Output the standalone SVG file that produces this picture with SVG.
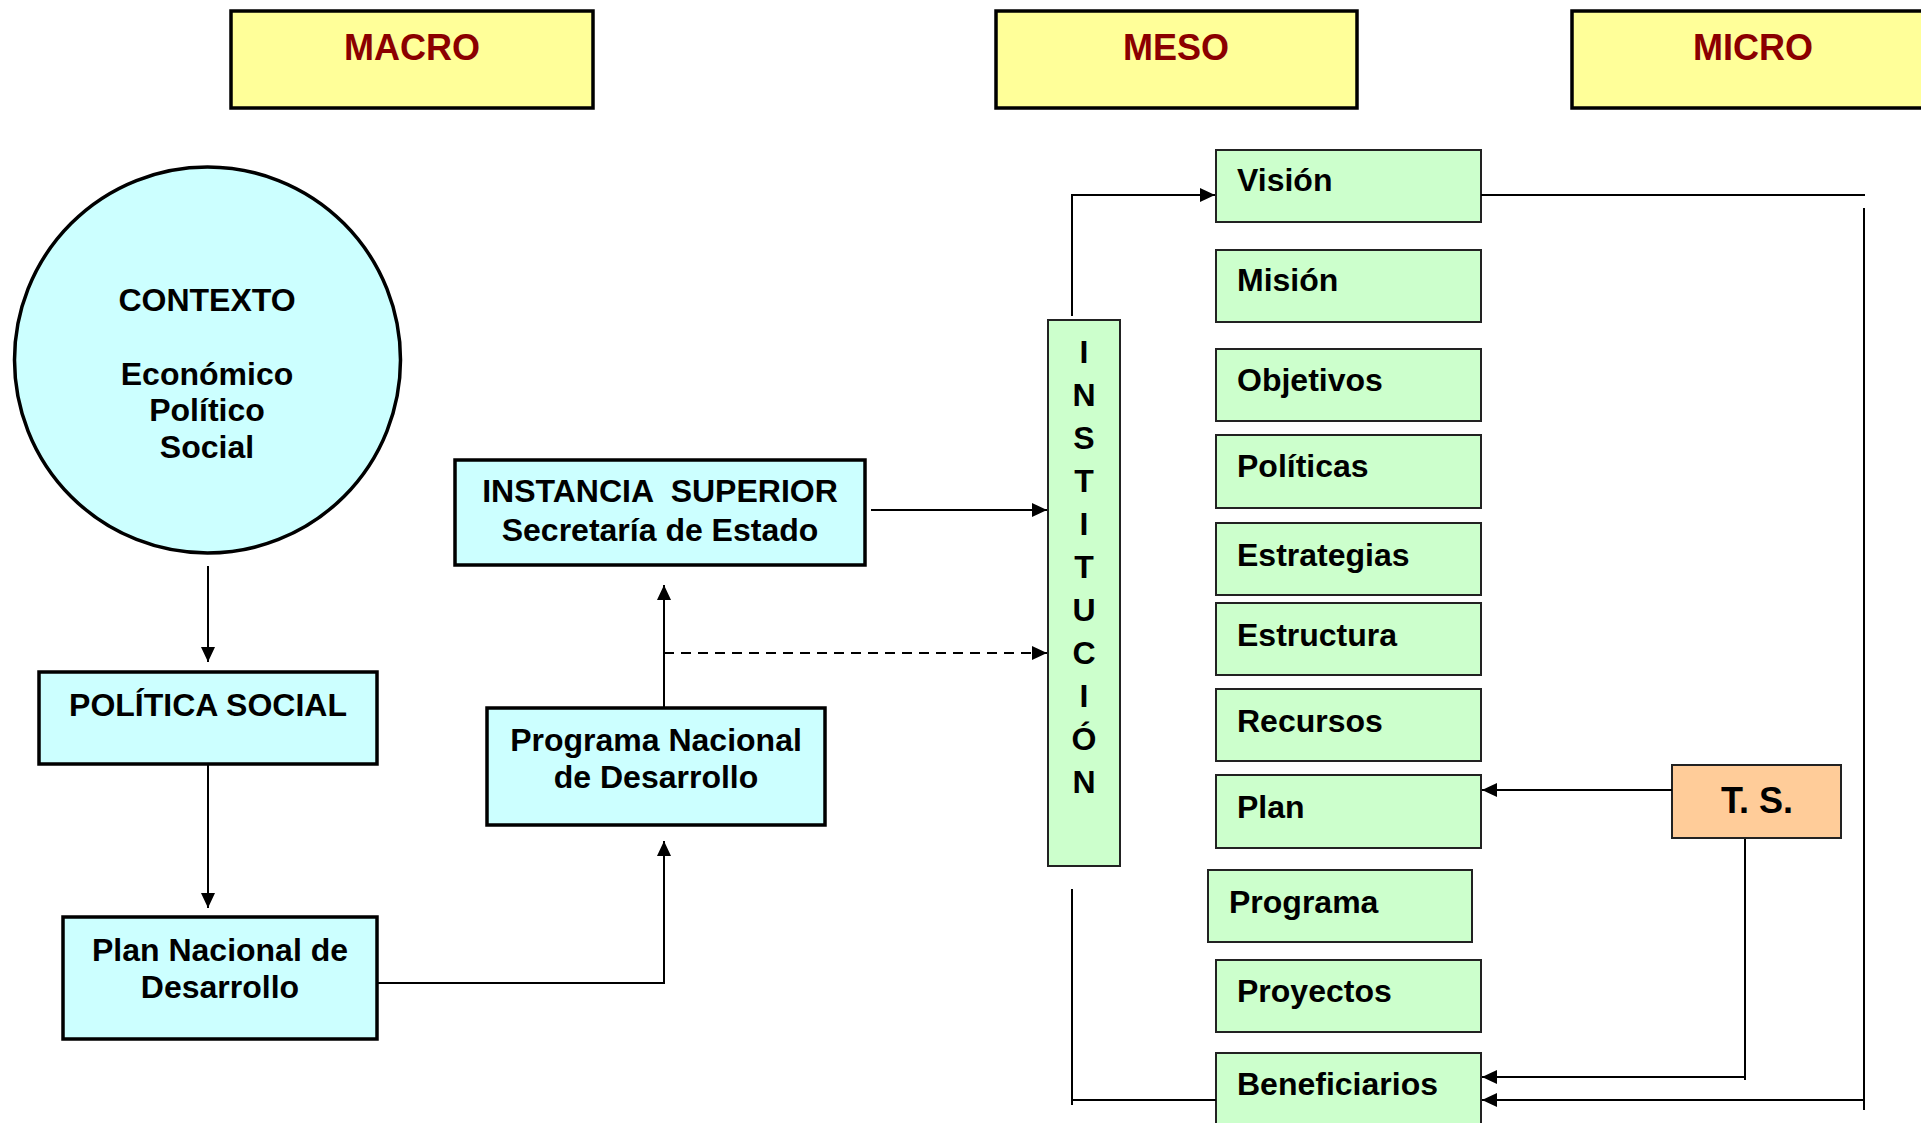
<svg xmlns="http://www.w3.org/2000/svg" width="1921" height="1123" viewBox="0 0 1921 1123">
<style>
text{font-family:"Liberation Sans",Arial,sans-serif;font-weight:bold;fill:#000}
.hdr rect{fill:#FFFF99;stroke:#000;stroke-width:3.5}
.hdr text{fill:#8B0000;font-size:36px;text-anchor:middle}
.cy{fill:#CCFFFF;stroke:#000;stroke-width:3.5}
.gr{fill:#CCFFCC;stroke:#222;stroke-width:2}
.t32{font-size:32px}
.mid{text-anchor:middle}
.cn{fill:none;stroke:#000;stroke-width:2}
</style>
<defs>
<marker id="ah" viewBox="0 0 15 14" refX="15" refY="7" markerWidth="15" markerHeight="14" orient="auto" markerUnits="userSpaceOnUse">
<path d="M0,0 L15,7 L0,14 Z" fill="#000"/>
</marker>
</defs>
<rect width="1921" height="1123" fill="#fff"/>

<g id="macro" class="hdr"><rect x="231" y="11" width="362" height="97"/><text x="412" y="60">MACRO</text></g>
<g id="meso" class="hdr"><rect x="996" y="11" width="361" height="97"/><text x="1176" y="60">MESO</text></g>
<g id="micro" class="hdr"><rect x="1572" y="11" width="362" height="97"/><text x="1753" y="60">MICRO</text></g>

<g id="contexto">
<ellipse cx="207.5" cy="360" rx="193" ry="193" class="cy"/>
<text class="t32 mid" x="207" y="311">CONTEXTO</text>
<text class="t32 mid" x="207" y="385">Económico</text>
<text class="t32 mid" x="207" y="421">Político</text>
<text class="t32 mid" x="207" y="458">Social</text>
</g>

<g id="politica-social">
<rect x="39" y="672" width="338" height="92" class="cy"/>
<text class="t32 mid" x="208" y="716">POLÍTICA SOCIAL</text>
</g>

<g id="plan-nacional">
<rect x="63" y="917" width="314" height="122" class="cy"/>
<text class="t32 mid" x="220" y="961">Plan Nacional de</text>
<text class="t32 mid" x="220" y="998">Desarrollo</text>
</g>

<g id="programa-nacional">
<rect x="487" y="708" width="338" height="117" class="cy"/>
<text class="t32 mid" x="656" y="751">Programa Nacional</text>
<text class="t32 mid" x="656" y="788">de Desarrollo</text>
</g>

<g id="instancia-superior">
<rect x="455" y="460" width="410" height="105" class="cy"/>
<text class="t32 mid" x="660" y="502" xml:space="preserve">INSTANCIA  SUPERIOR</text>
<text class="t32 mid" x="660" y="541">Secretaría de Estado</text>
</g>

<g id="institucion">
<rect x="1048" y="320" width="72" height="546" class="gr"/>
<text class="t32 mid" x="1084" y="363">I</text>
<text class="t32 mid" x="1084" y="406">N</text>
<text class="t32 mid" x="1084" y="449">S</text>
<text class="t32 mid" x="1084" y="492">T</text>
<text class="t32 mid" x="1084" y="535">I</text>
<text class="t32 mid" x="1084" y="578">T</text>
<text class="t32 mid" x="1084" y="621">U</text>
<text class="t32 mid" x="1084" y="664">C</text>
<text class="t32 mid" x="1084" y="707">I</text>
<text class="t32 mid" x="1084" y="750">Ó</text>
<text class="t32 mid" x="1084" y="793">N</text>
</g>

<g id="vision"><rect x="1216" y="150" width="265" height="72" class="gr"/><text class="t32" x="1237" y="191">Visión</text></g>
<g id="mision"><rect x="1216" y="250" width="265" height="72" class="gr"/><text class="t32" x="1237" y="291">Misión</text></g>
<g id="objetivos"><rect x="1216" y="349" width="265" height="72" class="gr"/><text class="t32" x="1237" y="391">Objetivos</text></g>
<g id="politicas"><rect x="1216" y="435" width="265" height="73" class="gr"/><text class="t32" x="1237" y="477">Políticas</text></g>
<g id="estrategias"><rect x="1216" y="523" width="265" height="72" class="gr"/><text class="t32" x="1237" y="566">Estrategias</text></g>
<g id="estructura"><rect x="1216" y="603" width="265" height="72" class="gr"/><text class="t32" x="1237" y="646">Estructura</text></g>
<g id="recursos"><rect x="1216" y="689" width="265" height="72" class="gr"/><text class="t32" x="1237" y="732">Recursos</text></g>
<g id="plan"><rect x="1216" y="775" width="265" height="73" class="gr"/><text class="t32" x="1237" y="818">Plan</text></g>
<g id="programa"><rect x="1208" y="870" width="264" height="72" class="gr"/><text class="t32" x="1229" y="913">Programa</text></g>
<g id="proyectos"><rect x="1216" y="960" width="265" height="72" class="gr"/><text class="t32" x="1237" y="1002">Proyectos</text></g>
<g id="beneficiarios"><rect x="1216" y="1053" width="265" height="80" class="gr"/><text class="t32" x="1237" y="1095">Beneficiarios</text></g>

<g id="ts">
<rect x="1672" y="765" width="169" height="73" fill="#FFCC99" stroke="#222" stroke-width="2"/>
<text x="1757" y="813" font-size="36" text-anchor="middle">T. S.</text>
</g>

<g id="connectors">
<path class="cn" d="M208 566 V662" marker-end="url(#ah)"/>
<path class="cn" d="M208 764 V908" marker-end="url(#ah)"/>
<path class="cn" d="M377 983 H664 V841" marker-end="url(#ah)"/>
<path class="cn" d="M664 708 V585" marker-end="url(#ah)"/>
<path class="cn" d="M664 653 H1047" stroke-dasharray="10 7" marker-end="url(#ah)"/>
<path class="cn" d="M871 510 H1047" marker-end="url(#ah)"/>
<path class="cn" d="M1072 316 V195 H1215" marker-end="url(#ah)"/>
<path class="cn" d="M1481 195 H1865"/>
<path class="cn" d="M1864 208 V1110"/>
<path class="cn" d="M1864 1100 H1482" marker-end="url(#ah)"/>
<path class="cn" d="M1672 790 H1482" marker-end="url(#ah)"/>
<path class="cn" d="M1745 839 V1080 M1745 1077 H1482" marker-end="url(#ah)"/>
<path class="cn" d="M1072 889 V1105 M1072 1100 H1216" stroke-width="1.5"/>
</g>
</svg>
